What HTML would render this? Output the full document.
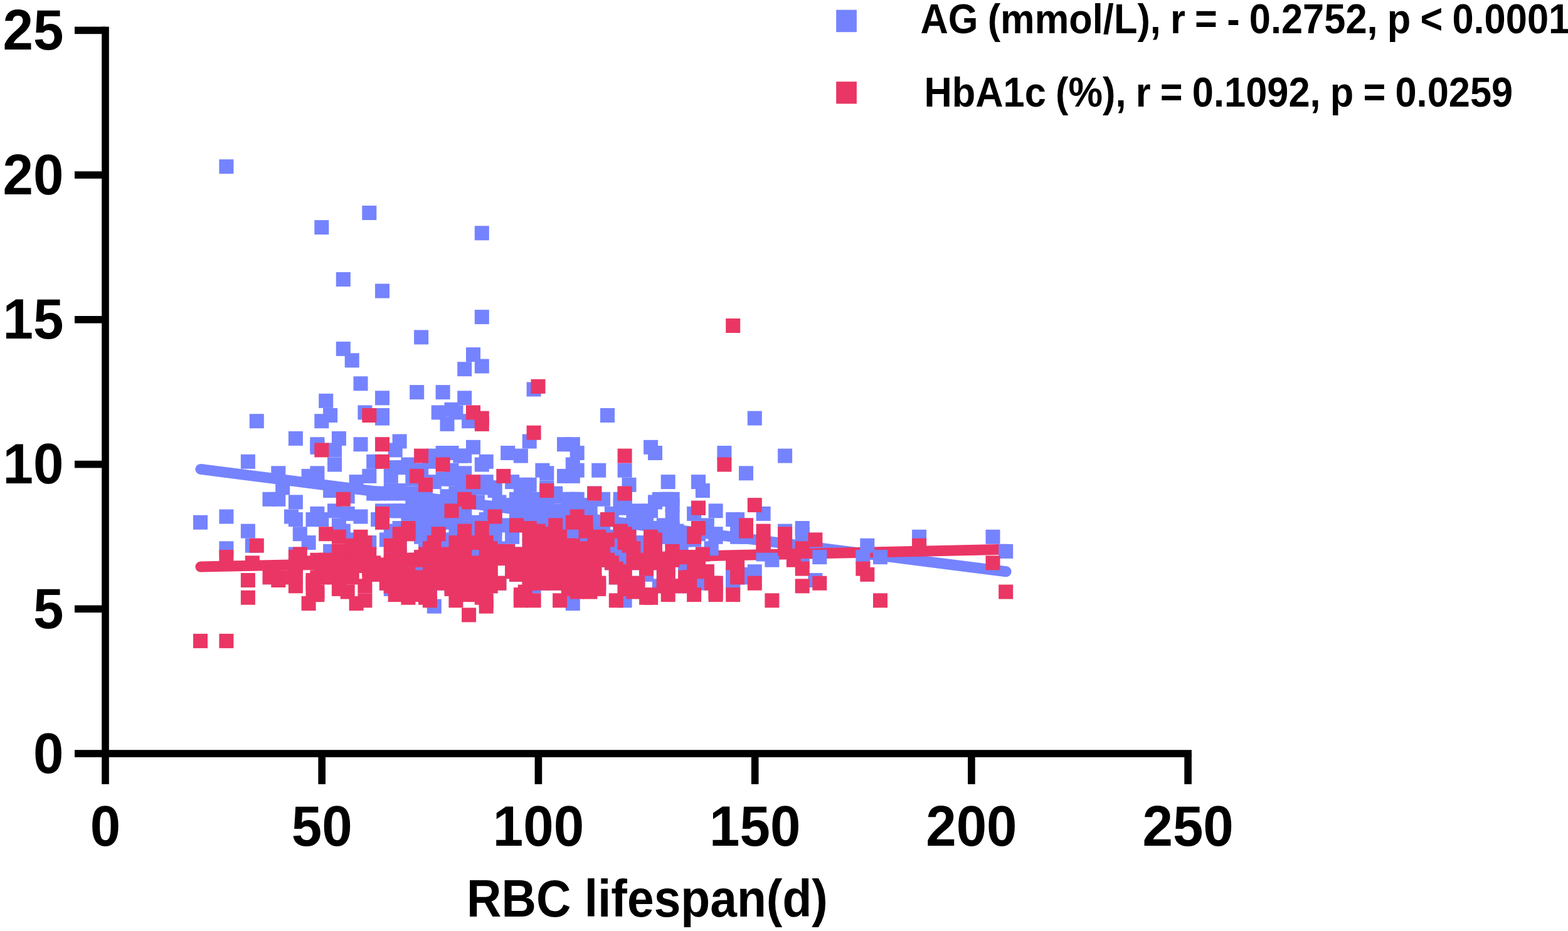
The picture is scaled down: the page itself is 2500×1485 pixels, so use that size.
<!DOCTYPE html>
<html lang="en">
<head>
<meta charset="utf-8">
<title>RBC lifespan correlation</title>
<style>
html,body{margin:0;padding:0;background:#fff;}
body{width:2500px;height:1485px;overflow:hidden;}
svg{display:block;}
svg text{font-family:"Liberation Sans",sans-serif;font-weight:700;fill:#000;white-space:pre;}
</style>
</head>
<body>

<svg width="2500" height="1485" viewBox="0 0 2500 1485">
<title>Scatter plot of AG and HbA1c against RBC lifespan with regression lines</title>
<rect width="2500" height="1485" fill="#ffffff"/>
<g fill="none" stroke-width="17.0" stroke-linecap="round">
<line x1="319.9" y1="748.4" x2="1604.1" y2="911.8" stroke="#7583ff"/>
<line x1="319.9" y1="904.1" x2="1604.1" y2="876.2" stroke="#ea3664"/>
</g>
<g fill="#7583ff">
<rect x="308.0" y="821.7" width="23.0" height="23.0"/>
<rect x="349.4" y="863.3" width="23.0" height="23.0"/>
<rect x="349.4" y="812.5" width="23.0" height="23.0"/>
<rect x="349.4" y="254.2" width="23.0" height="23.0"/>
<rect x="383.9" y="835.6" width="23.0" height="23.0"/>
<rect x="383.9" y="724.8" width="23.0" height="23.0"/>
<rect x="390.8" y="858.7" width="23.0" height="23.0"/>
<rect x="397.8" y="660.2" width="23.0" height="23.0"/>
<rect x="418.5" y="784.8" width="23.0" height="23.0"/>
<rect x="432.3" y="784.8" width="23.0" height="23.0"/>
<rect x="432.3" y="743.3" width="23.0" height="23.0"/>
<rect x="439.2" y="766.4" width="23.0" height="23.0"/>
<rect x="453.0" y="812.5" width="23.0" height="23.0"/>
<rect x="459.9" y="872.5" width="23.0" height="23.0"/>
<rect x="459.9" y="817.1" width="23.0" height="23.0"/>
<rect x="459.9" y="789.4" width="23.0" height="23.0"/>
<rect x="459.9" y="687.9" width="23.0" height="23.0"/>
<rect x="466.8" y="840.2" width="23.0" height="23.0"/>
<rect x="480.6" y="854.0" width="23.0" height="23.0"/>
<rect x="480.6" y="747.9" width="23.0" height="23.0"/>
<rect x="487.5" y="817.1" width="23.0" height="23.0"/>
<rect x="494.4" y="807.9" width="23.0" height="23.0"/>
<rect x="494.4" y="743.3" width="23.0" height="23.0"/>
<rect x="494.4" y="701.8" width="23.0" height="23.0"/>
<rect x="494.4" y="697.2" width="23.0" height="23.0"/>
<rect x="501.3" y="817.1" width="23.0" height="23.0"/>
<rect x="501.3" y="660.2" width="23.0" height="23.0"/>
<rect x="501.3" y="351.1" width="23.0" height="23.0"/>
<rect x="508.2" y="627.9" width="23.0" height="23.0"/>
<rect x="515.1" y="867.9" width="23.0" height="23.0"/>
<rect x="515.1" y="771.0" width="23.0" height="23.0"/>
<rect x="515.1" y="651.0" width="23.0" height="23.0"/>
<rect x="522.0" y="803.3" width="23.0" height="23.0"/>
<rect x="522.0" y="729.5" width="23.0" height="23.0"/>
<rect x="522.0" y="706.4" width="23.0" height="23.0"/>
<rect x="528.9" y="826.4" width="23.0" height="23.0"/>
<rect x="528.9" y="687.9" width="23.0" height="23.0"/>
<rect x="535.8" y="835.6" width="23.0" height="23.0"/>
<rect x="535.8" y="544.9" width="23.0" height="23.0"/>
<rect x="535.8" y="434.1" width="23.0" height="23.0"/>
<rect x="542.7" y="807.9" width="23.0" height="23.0"/>
<rect x="542.7" y="780.2" width="23.0" height="23.0"/>
<rect x="549.7" y="849.4" width="23.0" height="23.0"/>
<rect x="549.7" y="563.3" width="23.0" height="23.0"/>
<rect x="556.6" y="757.1" width="23.0" height="23.0"/>
<rect x="563.5" y="812.5" width="23.0" height="23.0"/>
<rect x="563.5" y="697.2" width="23.0" height="23.0"/>
<rect x="563.5" y="600.3" width="23.0" height="23.0"/>
<rect x="570.4" y="646.4" width="23.0" height="23.0"/>
<rect x="577.3" y="854.0" width="23.0" height="23.0"/>
<rect x="577.3" y="747.9" width="23.0" height="23.0"/>
<rect x="577.3" y="328.0" width="23.0" height="23.0"/>
<rect x="584.2" y="775.6" width="23.0" height="23.0"/>
<rect x="584.2" y="724.8" width="23.0" height="23.0"/>
<rect x="591.1" y="904.8" width="23.0" height="23.0"/>
<rect x="591.1" y="891.0" width="23.0" height="23.0"/>
<rect x="591.1" y="817.1" width="23.0" height="23.0"/>
<rect x="591.1" y="775.6" width="23.0" height="23.0"/>
<rect x="598.0" y="821.7" width="23.0" height="23.0"/>
<rect x="598.0" y="803.3" width="23.0" height="23.0"/>
<rect x="598.0" y="655.6" width="23.0" height="23.0"/>
<rect x="598.0" y="651.0" width="23.0" height="23.0"/>
<rect x="598.0" y="623.3" width="23.0" height="23.0"/>
<rect x="598.0" y="452.6" width="23.0" height="23.0"/>
<rect x="604.9" y="918.7" width="23.0" height="23.0"/>
<rect x="604.9" y="849.4" width="23.0" height="23.0"/>
<rect x="611.8" y="927.9" width="23.0" height="23.0"/>
<rect x="611.8" y="923.3" width="23.0" height="23.0"/>
<rect x="611.8" y="904.8" width="23.0" height="23.0"/>
<rect x="611.8" y="886.3" width="23.0" height="23.0"/>
<rect x="611.8" y="867.9" width="23.0" height="23.0"/>
<rect x="611.8" y="849.4" width="23.0" height="23.0"/>
<rect x="611.8" y="835.6" width="23.0" height="23.0"/>
<rect x="611.8" y="775.6" width="23.0" height="23.0"/>
<rect x="611.8" y="771.0" width="23.0" height="23.0"/>
<rect x="611.8" y="747.9" width="23.0" height="23.0"/>
<rect x="618.7" y="854.0" width="23.0" height="23.0"/>
<rect x="618.7" y="803.3" width="23.0" height="23.0"/>
<rect x="618.7" y="734.1" width="23.0" height="23.0"/>
<rect x="618.7" y="706.4" width="23.0" height="23.0"/>
<rect x="625.6" y="863.3" width="23.0" height="23.0"/>
<rect x="625.6" y="831.0" width="23.0" height="23.0"/>
<rect x="625.6" y="803.3" width="23.0" height="23.0"/>
<rect x="625.6" y="771.0" width="23.0" height="23.0"/>
<rect x="625.6" y="692.5" width="23.0" height="23.0"/>
<rect x="632.5" y="923.3" width="23.0" height="23.0"/>
<rect x="632.5" y="904.8" width="23.0" height="23.0"/>
<rect x="632.5" y="886.3" width="23.0" height="23.0"/>
<rect x="632.5" y="831.0" width="23.0" height="23.0"/>
<rect x="632.5" y="775.6" width="23.0" height="23.0"/>
<rect x="632.5" y="734.1" width="23.0" height="23.0"/>
<rect x="639.4" y="881.7" width="23.0" height="23.0"/>
<rect x="639.4" y="840.2" width="23.0" height="23.0"/>
<rect x="639.4" y="807.9" width="23.0" height="23.0"/>
<rect x="639.4" y="729.5" width="23.0" height="23.0"/>
<rect x="646.3" y="798.7" width="23.0" height="23.0"/>
<rect x="646.3" y="752.5" width="23.0" height="23.0"/>
<rect x="653.2" y="923.3" width="23.0" height="23.0"/>
<rect x="653.2" y="904.8" width="23.0" height="23.0"/>
<rect x="653.2" y="886.3" width="23.0" height="23.0"/>
<rect x="653.2" y="831.0" width="23.0" height="23.0"/>
<rect x="653.2" y="812.5" width="23.0" height="23.0"/>
<rect x="653.2" y="794.1" width="23.0" height="23.0"/>
<rect x="653.2" y="775.6" width="23.0" height="23.0"/>
<rect x="653.2" y="614.1" width="23.0" height="23.0"/>
<rect x="660.1" y="877.1" width="23.0" height="23.0"/>
<rect x="660.1" y="844.8" width="23.0" height="23.0"/>
<rect x="660.1" y="752.5" width="23.0" height="23.0"/>
<rect x="660.1" y="738.7" width="23.0" height="23.0"/>
<rect x="660.1" y="526.4" width="23.0" height="23.0"/>
<rect x="667.0" y="867.9" width="23.0" height="23.0"/>
<rect x="667.0" y="775.6" width="23.0" height="23.0"/>
<rect x="673.9" y="923.3" width="23.0" height="23.0"/>
<rect x="673.9" y="904.8" width="23.0" height="23.0"/>
<rect x="673.9" y="886.3" width="23.0" height="23.0"/>
<rect x="673.9" y="867.9" width="23.0" height="23.0"/>
<rect x="673.9" y="849.4" width="23.0" height="23.0"/>
<rect x="673.9" y="831.0" width="23.0" height="23.0"/>
<rect x="673.9" y="812.5" width="23.0" height="23.0"/>
<rect x="673.9" y="794.1" width="23.0" height="23.0"/>
<rect x="673.9" y="724.8" width="23.0" height="23.0"/>
<rect x="680.8" y="955.6" width="23.0" height="23.0"/>
<rect x="680.8" y="789.4" width="23.0" height="23.0"/>
<rect x="680.8" y="757.1" width="23.0" height="23.0"/>
<rect x="680.8" y="715.6" width="23.0" height="23.0"/>
<rect x="687.7" y="835.6" width="23.0" height="23.0"/>
<rect x="687.7" y="646.4" width="23.0" height="23.0"/>
<rect x="694.6" y="918.7" width="23.0" height="23.0"/>
<rect x="694.6" y="904.8" width="23.0" height="23.0"/>
<rect x="694.6" y="886.3" width="23.0" height="23.0"/>
<rect x="694.6" y="867.9" width="23.0" height="23.0"/>
<rect x="694.6" y="849.4" width="23.0" height="23.0"/>
<rect x="694.6" y="821.7" width="23.0" height="23.0"/>
<rect x="694.6" y="812.5" width="23.0" height="23.0"/>
<rect x="694.6" y="794.1" width="23.0" height="23.0"/>
<rect x="694.6" y="752.5" width="23.0" height="23.0"/>
<rect x="694.6" y="711.0" width="23.0" height="23.0"/>
<rect x="694.6" y="614.1" width="23.0" height="23.0"/>
<rect x="701.5" y="780.2" width="23.0" height="23.0"/>
<rect x="701.5" y="664.9" width="23.0" height="23.0"/>
<rect x="708.5" y="923.3" width="23.0" height="23.0"/>
<rect x="708.5" y="752.5" width="23.0" height="23.0"/>
<rect x="708.5" y="738.7" width="23.0" height="23.0"/>
<rect x="708.5" y="711.0" width="23.0" height="23.0"/>
<rect x="708.5" y="641.8" width="23.0" height="23.0"/>
<rect x="715.4" y="923.3" width="23.0" height="23.0"/>
<rect x="715.4" y="904.8" width="23.0" height="23.0"/>
<rect x="715.4" y="886.3" width="23.0" height="23.0"/>
<rect x="715.4" y="867.9" width="23.0" height="23.0"/>
<rect x="715.4" y="849.4" width="23.0" height="23.0"/>
<rect x="715.4" y="831.0" width="23.0" height="23.0"/>
<rect x="715.4" y="812.5" width="23.0" height="23.0"/>
<rect x="715.4" y="794.1" width="23.0" height="23.0"/>
<rect x="715.4" y="775.6" width="23.0" height="23.0"/>
<rect x="715.4" y="752.5" width="23.0" height="23.0"/>
<rect x="715.4" y="646.4" width="23.0" height="23.0"/>
<rect x="722.3" y="752.5" width="23.0" height="23.0"/>
<rect x="722.3" y="715.6" width="23.0" height="23.0"/>
<rect x="729.2" y="807.9" width="23.0" height="23.0"/>
<rect x="729.2" y="798.7" width="23.0" height="23.0"/>
<rect x="729.2" y="766.4" width="23.0" height="23.0"/>
<rect x="729.2" y="743.3" width="23.0" height="23.0"/>
<rect x="729.2" y="715.6" width="23.0" height="23.0"/>
<rect x="729.2" y="623.3" width="23.0" height="23.0"/>
<rect x="729.2" y="577.2" width="23.0" height="23.0"/>
<rect x="736.1" y="923.3" width="23.0" height="23.0"/>
<rect x="736.1" y="904.8" width="23.0" height="23.0"/>
<rect x="736.1" y="886.3" width="23.0" height="23.0"/>
<rect x="736.1" y="867.9" width="23.0" height="23.0"/>
<rect x="736.1" y="849.4" width="23.0" height="23.0"/>
<rect x="736.1" y="831.0" width="23.0" height="23.0"/>
<rect x="736.1" y="775.6" width="23.0" height="23.0"/>
<rect x="736.1" y="660.2" width="23.0" height="23.0"/>
<rect x="743.0" y="701.8" width="23.0" height="23.0"/>
<rect x="743.0" y="554.1" width="23.0" height="23.0"/>
<rect x="749.9" y="821.7" width="23.0" height="23.0"/>
<rect x="749.9" y="789.4" width="23.0" height="23.0"/>
<rect x="749.9" y="766.4" width="23.0" height="23.0"/>
<rect x="756.8" y="923.3" width="23.0" height="23.0"/>
<rect x="756.8" y="904.8" width="23.0" height="23.0"/>
<rect x="756.8" y="886.3" width="23.0" height="23.0"/>
<rect x="756.8" y="867.9" width="23.0" height="23.0"/>
<rect x="756.8" y="849.4" width="23.0" height="23.0"/>
<rect x="756.8" y="831.0" width="23.0" height="23.0"/>
<rect x="756.8" y="729.5" width="23.0" height="23.0"/>
<rect x="756.8" y="572.6" width="23.0" height="23.0"/>
<rect x="756.8" y="494.1" width="23.0" height="23.0"/>
<rect x="756.8" y="360.3" width="23.0" height="23.0"/>
<rect x="763.7" y="918.7" width="23.0" height="23.0"/>
<rect x="763.7" y="891.0" width="23.0" height="23.0"/>
<rect x="763.7" y="817.1" width="23.0" height="23.0"/>
<rect x="763.7" y="757.1" width="23.0" height="23.0"/>
<rect x="763.7" y="724.8" width="23.0" height="23.0"/>
<rect x="770.6" y="923.3" width="23.0" height="23.0"/>
<rect x="770.6" y="895.6" width="23.0" height="23.0"/>
<rect x="770.6" y="798.7" width="23.0" height="23.0"/>
<rect x="770.6" y="766.4" width="23.0" height="23.0"/>
<rect x="777.5" y="867.9" width="23.0" height="23.0"/>
<rect x="777.5" y="849.4" width="23.0" height="23.0"/>
<rect x="777.5" y="831.0" width="23.0" height="23.0"/>
<rect x="777.5" y="812.5" width="23.0" height="23.0"/>
<rect x="777.5" y="807.9" width="23.0" height="23.0"/>
<rect x="777.5" y="771.0" width="23.0" height="23.0"/>
<rect x="777.5" y="766.4" width="23.0" height="23.0"/>
<rect x="784.4" y="918.7" width="23.0" height="23.0"/>
<rect x="784.4" y="877.1" width="23.0" height="23.0"/>
<rect x="784.4" y="863.3" width="23.0" height="23.0"/>
<rect x="784.4" y="789.4" width="23.0" height="23.0"/>
<rect x="798.2" y="867.9" width="23.0" height="23.0"/>
<rect x="798.2" y="826.4" width="23.0" height="23.0"/>
<rect x="798.2" y="794.1" width="23.0" height="23.0"/>
<rect x="798.2" y="711.0" width="23.0" height="23.0"/>
<rect x="805.1" y="900.2" width="23.0" height="23.0"/>
<rect x="805.1" y="895.6" width="23.0" height="23.0"/>
<rect x="805.1" y="891.0" width="23.0" height="23.0"/>
<rect x="805.1" y="844.8" width="23.0" height="23.0"/>
<rect x="805.1" y="757.1" width="23.0" height="23.0"/>
<rect x="812.0" y="904.8" width="23.0" height="23.0"/>
<rect x="812.0" y="817.1" width="23.0" height="23.0"/>
<rect x="812.0" y="784.8" width="23.0" height="23.0"/>
<rect x="818.9" y="904.8" width="23.0" height="23.0"/>
<rect x="818.9" y="886.3" width="23.0" height="23.0"/>
<rect x="818.9" y="872.5" width="23.0" height="23.0"/>
<rect x="818.9" y="826.4" width="23.0" height="23.0"/>
<rect x="818.9" y="812.5" width="23.0" height="23.0"/>
<rect x="818.9" y="794.1" width="23.0" height="23.0"/>
<rect x="818.9" y="775.6" width="23.0" height="23.0"/>
<rect x="818.9" y="715.6" width="23.0" height="23.0"/>
<rect x="825.8" y="761.8" width="23.0" height="23.0"/>
<rect x="832.7" y="923.3" width="23.0" height="23.0"/>
<rect x="832.7" y="867.9" width="23.0" height="23.0"/>
<rect x="832.7" y="849.4" width="23.0" height="23.0"/>
<rect x="832.7" y="761.8" width="23.0" height="23.0"/>
<rect x="832.7" y="692.5" width="23.0" height="23.0"/>
<rect x="839.6" y="923.3" width="23.0" height="23.0"/>
<rect x="839.6" y="904.8" width="23.0" height="23.0"/>
<rect x="839.6" y="886.3" width="23.0" height="23.0"/>
<rect x="839.6" y="867.9" width="23.0" height="23.0"/>
<rect x="839.6" y="849.4" width="23.0" height="23.0"/>
<rect x="839.6" y="831.0" width="23.0" height="23.0"/>
<rect x="839.6" y="812.5" width="23.0" height="23.0"/>
<rect x="839.6" y="794.1" width="23.0" height="23.0"/>
<rect x="839.6" y="784.8" width="23.0" height="23.0"/>
<rect x="839.6" y="609.5" width="23.0" height="23.0"/>
<rect x="853.4" y="918.7" width="23.0" height="23.0"/>
<rect x="853.4" y="738.7" width="23.0" height="23.0"/>
<rect x="860.3" y="904.8" width="23.0" height="23.0"/>
<rect x="860.3" y="886.3" width="23.0" height="23.0"/>
<rect x="860.3" y="867.9" width="23.0" height="23.0"/>
<rect x="860.3" y="849.4" width="23.0" height="23.0"/>
<rect x="860.3" y="831.0" width="23.0" height="23.0"/>
<rect x="860.3" y="812.5" width="23.0" height="23.0"/>
<rect x="860.3" y="794.1" width="23.0" height="23.0"/>
<rect x="860.3" y="775.6" width="23.0" height="23.0"/>
<rect x="860.3" y="766.4" width="23.0" height="23.0"/>
<rect x="860.3" y="743.3" width="23.0" height="23.0"/>
<rect x="874.2" y="918.7" width="23.0" height="23.0"/>
<rect x="874.2" y="895.6" width="23.0" height="23.0"/>
<rect x="874.2" y="872.5" width="23.0" height="23.0"/>
<rect x="874.2" y="867.9" width="23.0" height="23.0"/>
<rect x="874.2" y="849.4" width="23.0" height="23.0"/>
<rect x="874.2" y="826.4" width="23.0" height="23.0"/>
<rect x="874.2" y="803.3" width="23.0" height="23.0"/>
<rect x="874.2" y="780.2" width="23.0" height="23.0"/>
<rect x="874.2" y="775.6" width="23.0" height="23.0"/>
<rect x="888.0" y="747.9" width="23.0" height="23.0"/>
<rect x="888.0" y="697.2" width="23.0" height="23.0"/>
<rect x="894.9" y="923.3" width="23.0" height="23.0"/>
<rect x="894.9" y="904.8" width="23.0" height="23.0"/>
<rect x="894.9" y="886.3" width="23.0" height="23.0"/>
<rect x="894.9" y="867.9" width="23.0" height="23.0"/>
<rect x="894.9" y="849.4" width="23.0" height="23.0"/>
<rect x="894.9" y="831.0" width="23.0" height="23.0"/>
<rect x="894.9" y="812.5" width="23.0" height="23.0"/>
<rect x="894.9" y="794.1" width="23.0" height="23.0"/>
<rect x="894.9" y="784.8" width="23.0" height="23.0"/>
<rect x="901.8" y="951.0" width="23.0" height="23.0"/>
<rect x="901.8" y="784.8" width="23.0" height="23.0"/>
<rect x="901.8" y="747.9" width="23.0" height="23.0"/>
<rect x="901.8" y="729.5" width="23.0" height="23.0"/>
<rect x="901.8" y="697.2" width="23.0" height="23.0"/>
<rect x="908.7" y="784.8" width="23.0" height="23.0"/>
<rect x="908.7" y="738.7" width="23.0" height="23.0"/>
<rect x="908.7" y="711.0" width="23.0" height="23.0"/>
<rect x="915.6" y="923.3" width="23.0" height="23.0"/>
<rect x="915.6" y="904.8" width="23.0" height="23.0"/>
<rect x="915.6" y="886.3" width="23.0" height="23.0"/>
<rect x="915.6" y="867.9" width="23.0" height="23.0"/>
<rect x="915.6" y="849.4" width="23.0" height="23.0"/>
<rect x="915.6" y="831.0" width="23.0" height="23.0"/>
<rect x="915.6" y="812.5" width="23.0" height="23.0"/>
<rect x="915.6" y="794.1" width="23.0" height="23.0"/>
<rect x="929.4" y="807.9" width="23.0" height="23.0"/>
<rect x="929.4" y="798.7" width="23.0" height="23.0"/>
<rect x="936.3" y="923.3" width="23.0" height="23.0"/>
<rect x="936.3" y="904.8" width="23.0" height="23.0"/>
<rect x="936.3" y="886.3" width="23.0" height="23.0"/>
<rect x="936.3" y="867.9" width="23.0" height="23.0"/>
<rect x="936.3" y="849.4" width="23.0" height="23.0"/>
<rect x="936.3" y="831.0" width="23.0" height="23.0"/>
<rect x="936.3" y="821.7" width="23.0" height="23.0"/>
<rect x="936.3" y="775.6" width="23.0" height="23.0"/>
<rect x="943.2" y="923.3" width="23.0" height="23.0"/>
<rect x="943.2" y="918.7" width="23.0" height="23.0"/>
<rect x="943.2" y="738.7" width="23.0" height="23.0"/>
<rect x="950.1" y="826.4" width="23.0" height="23.0"/>
<rect x="950.1" y="784.8" width="23.0" height="23.0"/>
<rect x="957.0" y="881.7" width="23.0" height="23.0"/>
<rect x="957.0" y="867.9" width="23.0" height="23.0"/>
<rect x="957.0" y="849.4" width="23.0" height="23.0"/>
<rect x="957.0" y="844.8" width="23.0" height="23.0"/>
<rect x="957.0" y="817.1" width="23.0" height="23.0"/>
<rect x="957.0" y="651.0" width="23.0" height="23.0"/>
<rect x="963.9" y="886.3" width="23.0" height="23.0"/>
<rect x="963.9" y="807.9" width="23.0" height="23.0"/>
<rect x="970.8" y="909.4" width="23.0" height="23.0"/>
<rect x="970.8" y="858.7" width="23.0" height="23.0"/>
<rect x="977.7" y="904.8" width="23.0" height="23.0"/>
<rect x="977.7" y="886.3" width="23.0" height="23.0"/>
<rect x="977.7" y="872.5" width="23.0" height="23.0"/>
<rect x="977.7" y="867.9" width="23.0" height="23.0"/>
<rect x="977.7" y="849.4" width="23.0" height="23.0"/>
<rect x="977.7" y="831.0" width="23.0" height="23.0"/>
<rect x="977.7" y="826.4" width="23.0" height="23.0"/>
<rect x="977.7" y="794.1" width="23.0" height="23.0"/>
<rect x="977.7" y="784.8" width="23.0" height="23.0"/>
<rect x="984.6" y="946.3" width="23.0" height="23.0"/>
<rect x="984.6" y="923.3" width="23.0" height="23.0"/>
<rect x="984.6" y="909.4" width="23.0" height="23.0"/>
<rect x="984.6" y="881.7" width="23.0" height="23.0"/>
<rect x="984.6" y="858.7" width="23.0" height="23.0"/>
<rect x="984.6" y="798.7" width="23.0" height="23.0"/>
<rect x="984.6" y="784.8" width="23.0" height="23.0"/>
<rect x="984.6" y="775.6" width="23.0" height="23.0"/>
<rect x="984.6" y="738.7" width="23.0" height="23.0"/>
<rect x="991.5" y="835.6" width="23.0" height="23.0"/>
<rect x="991.5" y="761.8" width="23.0" height="23.0"/>
<rect x="998.4" y="923.3" width="23.0" height="23.0"/>
<rect x="998.4" y="886.3" width="23.0" height="23.0"/>
<rect x="998.4" y="867.9" width="23.0" height="23.0"/>
<rect x="998.4" y="812.5" width="23.0" height="23.0"/>
<rect x="1005.3" y="923.3" width="23.0" height="23.0"/>
<rect x="1005.3" y="918.7" width="23.0" height="23.0"/>
<rect x="1005.3" y="854.0" width="23.0" height="23.0"/>
<rect x="1005.3" y="821.7" width="23.0" height="23.0"/>
<rect x="1005.3" y="803.3" width="23.0" height="23.0"/>
<rect x="1012.2" y="858.7" width="23.0" height="23.0"/>
<rect x="1019.1" y="904.8" width="23.0" height="23.0"/>
<rect x="1019.1" y="886.3" width="23.0" height="23.0"/>
<rect x="1019.1" y="867.9" width="23.0" height="23.0"/>
<rect x="1019.1" y="812.5" width="23.0" height="23.0"/>
<rect x="1026.1" y="835.6" width="23.0" height="23.0"/>
<rect x="1026.1" y="803.3" width="23.0" height="23.0"/>
<rect x="1026.1" y="701.8" width="23.0" height="23.0"/>
<rect x="1033.0" y="877.1" width="23.0" height="23.0"/>
<rect x="1033.0" y="854.0" width="23.0" height="23.0"/>
<rect x="1033.0" y="789.4" width="23.0" height="23.0"/>
<rect x="1033.0" y="711.0" width="23.0" height="23.0"/>
<rect x="1039.9" y="923.3" width="23.0" height="23.0"/>
<rect x="1039.9" y="886.3" width="23.0" height="23.0"/>
<rect x="1039.9" y="881.7" width="23.0" height="23.0"/>
<rect x="1039.9" y="844.8" width="23.0" height="23.0"/>
<rect x="1039.9" y="831.0" width="23.0" height="23.0"/>
<rect x="1039.9" y="784.8" width="23.0" height="23.0"/>
<rect x="1046.8" y="909.4" width="23.0" height="23.0"/>
<rect x="1046.8" y="826.4" width="23.0" height="23.0"/>
<rect x="1053.7" y="900.2" width="23.0" height="23.0"/>
<rect x="1053.7" y="784.8" width="23.0" height="23.0"/>
<rect x="1053.7" y="757.1" width="23.0" height="23.0"/>
<rect x="1060.6" y="923.3" width="23.0" height="23.0"/>
<rect x="1060.6" y="881.7" width="23.0" height="23.0"/>
<rect x="1060.6" y="867.9" width="23.0" height="23.0"/>
<rect x="1060.6" y="849.4" width="23.0" height="23.0"/>
<rect x="1060.6" y="831.0" width="23.0" height="23.0"/>
<rect x="1060.6" y="812.5" width="23.0" height="23.0"/>
<rect x="1060.6" y="794.1" width="23.0" height="23.0"/>
<rect x="1060.6" y="784.8" width="23.0" height="23.0"/>
<rect x="1067.5" y="835.6" width="23.0" height="23.0"/>
<rect x="1074.4" y="872.5" width="23.0" height="23.0"/>
<rect x="1074.4" y="867.9" width="23.0" height="23.0"/>
<rect x="1081.3" y="923.3" width="23.0" height="23.0"/>
<rect x="1081.3" y="904.8" width="23.0" height="23.0"/>
<rect x="1081.3" y="886.3" width="23.0" height="23.0"/>
<rect x="1081.3" y="849.4" width="23.0" height="23.0"/>
<rect x="1081.3" y="840.2" width="23.0" height="23.0"/>
<rect x="1088.2" y="877.1" width="23.0" height="23.0"/>
<rect x="1095.1" y="923.3" width="23.0" height="23.0"/>
<rect x="1095.1" y="849.4" width="23.0" height="23.0"/>
<rect x="1095.1" y="807.9" width="23.0" height="23.0"/>
<rect x="1102.0" y="904.8" width="23.0" height="23.0"/>
<rect x="1102.0" y="886.3" width="23.0" height="23.0"/>
<rect x="1102.0" y="840.2" width="23.0" height="23.0"/>
<rect x="1102.0" y="831.0" width="23.0" height="23.0"/>
<rect x="1102.0" y="798.7" width="23.0" height="23.0"/>
<rect x="1102.0" y="757.1" width="23.0" height="23.0"/>
<rect x="1108.9" y="918.7" width="23.0" height="23.0"/>
<rect x="1108.9" y="872.5" width="23.0" height="23.0"/>
<rect x="1108.9" y="835.6" width="23.0" height="23.0"/>
<rect x="1108.9" y="771.0" width="23.0" height="23.0"/>
<rect x="1115.8" y="900.2" width="23.0" height="23.0"/>
<rect x="1115.8" y="826.4" width="23.0" height="23.0"/>
<rect x="1122.7" y="863.3" width="23.0" height="23.0"/>
<rect x="1129.6" y="923.3" width="23.0" height="23.0"/>
<rect x="1129.6" y="918.7" width="23.0" height="23.0"/>
<rect x="1129.6" y="844.8" width="23.0" height="23.0"/>
<rect x="1129.6" y="840.2" width="23.0" height="23.0"/>
<rect x="1129.6" y="803.3" width="23.0" height="23.0"/>
<rect x="1143.4" y="711.0" width="23.0" height="23.0"/>
<rect x="1157.2" y="923.3" width="23.0" height="23.0"/>
<rect x="1157.2" y="914.0" width="23.0" height="23.0"/>
<rect x="1157.2" y="904.8" width="23.0" height="23.0"/>
<rect x="1157.2" y="895.6" width="23.0" height="23.0"/>
<rect x="1157.2" y="817.1" width="23.0" height="23.0"/>
<rect x="1164.1" y="904.8" width="23.0" height="23.0"/>
<rect x="1164.1" y="895.6" width="23.0" height="23.0"/>
<rect x="1164.1" y="844.8" width="23.0" height="23.0"/>
<rect x="1164.1" y="831.0" width="23.0" height="23.0"/>
<rect x="1164.1" y="817.1" width="23.0" height="23.0"/>
<rect x="1178.0" y="909.4" width="23.0" height="23.0"/>
<rect x="1178.0" y="844.8" width="23.0" height="23.0"/>
<rect x="1178.0" y="826.4" width="23.0" height="23.0"/>
<rect x="1178.0" y="743.3" width="23.0" height="23.0"/>
<rect x="1184.9" y="904.8" width="23.0" height="23.0"/>
<rect x="1191.8" y="900.2" width="23.0" height="23.0"/>
<rect x="1191.8" y="655.6" width="23.0" height="23.0"/>
<rect x="1205.6" y="872.5" width="23.0" height="23.0"/>
<rect x="1205.6" y="807.9" width="23.0" height="23.0"/>
<rect x="1219.4" y="881.7" width="23.0" height="23.0"/>
<rect x="1240.1" y="835.6" width="23.0" height="23.0"/>
<rect x="1240.1" y="715.6" width="23.0" height="23.0"/>
<rect x="1267.7" y="881.7" width="23.0" height="23.0"/>
<rect x="1267.7" y="840.2" width="23.0" height="23.0"/>
<rect x="1267.7" y="831.0" width="23.0" height="23.0"/>
<rect x="1288.4" y="914.0" width="23.0" height="23.0"/>
<rect x="1295.3" y="877.1" width="23.0" height="23.0"/>
<rect x="1364.4" y="877.1" width="23.0" height="23.0"/>
<rect x="1371.3" y="858.7" width="23.0" height="23.0"/>
<rect x="1392.0" y="877.1" width="23.0" height="23.0"/>
<rect x="1454.1" y="844.8" width="23.0" height="23.0"/>
<rect x="1571.5" y="844.8" width="23.0" height="23.0"/>
<rect x="1592.2" y="867.9" width="23.0" height="23.0"/>
</g>
<g fill="#ea3664">
<rect x="308.0" y="1010.9" width="23.0" height="23.0"/>
<rect x="349.4" y="1010.9" width="23.0" height="23.0"/>
<rect x="349.4" y="877.1" width="23.0" height="23.0"/>
<rect x="383.9" y="941.7" width="23.0" height="23.0"/>
<rect x="383.9" y="914.0" width="23.0" height="23.0"/>
<rect x="390.8" y="886.3" width="23.0" height="23.0"/>
<rect x="397.8" y="858.7" width="23.0" height="23.0"/>
<rect x="418.5" y="909.4" width="23.0" height="23.0"/>
<rect x="432.3" y="914.0" width="23.0" height="23.0"/>
<rect x="439.2" y="909.4" width="23.0" height="23.0"/>
<rect x="459.9" y="923.3" width="23.0" height="23.0"/>
<rect x="459.9" y="909.4" width="23.0" height="23.0"/>
<rect x="459.9" y="891.0" width="23.0" height="23.0"/>
<rect x="459.9" y="877.1" width="23.0" height="23.0"/>
<rect x="466.8" y="872.5" width="23.0" height="23.0"/>
<rect x="480.6" y="951.0" width="23.0" height="23.0"/>
<rect x="480.6" y="886.3" width="23.0" height="23.0"/>
<rect x="487.5" y="937.1" width="23.0" height="23.0"/>
<rect x="487.5" y="918.7" width="23.0" height="23.0"/>
<rect x="487.5" y="914.0" width="23.0" height="23.0"/>
<rect x="494.4" y="937.1" width="23.0" height="23.0"/>
<rect x="494.4" y="932.5" width="23.0" height="23.0"/>
<rect x="494.4" y="909.4" width="23.0" height="23.0"/>
<rect x="494.4" y="881.7" width="23.0" height="23.0"/>
<rect x="501.3" y="909.4" width="23.0" height="23.0"/>
<rect x="501.3" y="891.0" width="23.0" height="23.0"/>
<rect x="501.3" y="706.4" width="23.0" height="23.0"/>
<rect x="508.2" y="881.7" width="23.0" height="23.0"/>
<rect x="508.2" y="840.2" width="23.0" height="23.0"/>
<rect x="515.1" y="886.3" width="23.0" height="23.0"/>
<rect x="522.0" y="909.4" width="23.0" height="23.0"/>
<rect x="522.0" y="891.0" width="23.0" height="23.0"/>
<rect x="528.9" y="927.9" width="23.0" height="23.0"/>
<rect x="528.9" y="867.9" width="23.0" height="23.0"/>
<rect x="528.9" y="844.8" width="23.0" height="23.0"/>
<rect x="535.8" y="886.3" width="23.0" height="23.0"/>
<rect x="535.8" y="784.8" width="23.0" height="23.0"/>
<rect x="542.7" y="932.5" width="23.0" height="23.0"/>
<rect x="542.7" y="909.4" width="23.0" height="23.0"/>
<rect x="542.7" y="891.0" width="23.0" height="23.0"/>
<rect x="549.7" y="909.4" width="23.0" height="23.0"/>
<rect x="549.7" y="867.9" width="23.0" height="23.0"/>
<rect x="549.7" y="858.7" width="23.0" height="23.0"/>
<rect x="556.6" y="951.0" width="23.0" height="23.0"/>
<rect x="556.6" y="886.3" width="23.0" height="23.0"/>
<rect x="563.5" y="891.0" width="23.0" height="23.0"/>
<rect x="563.5" y="844.8" width="23.0" height="23.0"/>
<rect x="570.4" y="946.3" width="23.0" height="23.0"/>
<rect x="570.4" y="923.3" width="23.0" height="23.0"/>
<rect x="570.4" y="867.9" width="23.0" height="23.0"/>
<rect x="570.4" y="854.0" width="23.0" height="23.0"/>
<rect x="577.3" y="904.8" width="23.0" height="23.0"/>
<rect x="577.3" y="895.6" width="23.0" height="23.0"/>
<rect x="577.3" y="872.5" width="23.0" height="23.0"/>
<rect x="577.3" y="651.0" width="23.0" height="23.0"/>
<rect x="584.2" y="904.8" width="23.0" height="23.0"/>
<rect x="584.2" y="895.6" width="23.0" height="23.0"/>
<rect x="584.2" y="886.3" width="23.0" height="23.0"/>
<rect x="591.1" y="891.0" width="23.0" height="23.0"/>
<rect x="598.0" y="821.7" width="23.0" height="23.0"/>
<rect x="598.0" y="807.9" width="23.0" height="23.0"/>
<rect x="598.0" y="724.8" width="23.0" height="23.0"/>
<rect x="598.0" y="697.2" width="23.0" height="23.0"/>
<rect x="604.9" y="918.7" width="23.0" height="23.0"/>
<rect x="604.9" y="914.0" width="23.0" height="23.0"/>
<rect x="604.9" y="895.6" width="23.0" height="23.0"/>
<rect x="611.8" y="923.3" width="23.0" height="23.0"/>
<rect x="611.8" y="881.7" width="23.0" height="23.0"/>
<rect x="611.8" y="858.7" width="23.0" height="23.0"/>
<rect x="618.7" y="937.1" width="23.0" height="23.0"/>
<rect x="625.6" y="932.5" width="23.0" height="23.0"/>
<rect x="625.6" y="914.0" width="23.0" height="23.0"/>
<rect x="625.6" y="895.6" width="23.0" height="23.0"/>
<rect x="625.6" y="877.1" width="23.0" height="23.0"/>
<rect x="625.6" y="858.7" width="23.0" height="23.0"/>
<rect x="625.6" y="840.2" width="23.0" height="23.0"/>
<rect x="639.4" y="941.7" width="23.0" height="23.0"/>
<rect x="639.4" y="904.8" width="23.0" height="23.0"/>
<rect x="639.4" y="840.2" width="23.0" height="23.0"/>
<rect x="639.4" y="835.6" width="23.0" height="23.0"/>
<rect x="639.4" y="831.0" width="23.0" height="23.0"/>
<rect x="646.3" y="937.1" width="23.0" height="23.0"/>
<rect x="646.3" y="932.5" width="23.0" height="23.0"/>
<rect x="646.3" y="914.0" width="23.0" height="23.0"/>
<rect x="646.3" y="881.7" width="23.0" height="23.0"/>
<rect x="653.2" y="909.4" width="23.0" height="23.0"/>
<rect x="653.2" y="881.7" width="23.0" height="23.0"/>
<rect x="653.2" y="747.9" width="23.0" height="23.0"/>
<rect x="660.1" y="877.1" width="23.0" height="23.0"/>
<rect x="660.1" y="715.6" width="23.0" height="23.0"/>
<rect x="667.0" y="941.7" width="23.0" height="23.0"/>
<rect x="667.0" y="932.5" width="23.0" height="23.0"/>
<rect x="667.0" y="914.0" width="23.0" height="23.0"/>
<rect x="667.0" y="877.1" width="23.0" height="23.0"/>
<rect x="667.0" y="872.5" width="23.0" height="23.0"/>
<rect x="667.0" y="761.8" width="23.0" height="23.0"/>
<rect x="673.9" y="946.3" width="23.0" height="23.0"/>
<rect x="673.9" y="941.7" width="23.0" height="23.0"/>
<rect x="673.9" y="900.2" width="23.0" height="23.0"/>
<rect x="673.9" y="863.3" width="23.0" height="23.0"/>
<rect x="680.8" y="854.0" width="23.0" height="23.0"/>
<rect x="687.7" y="918.7" width="23.0" height="23.0"/>
<rect x="687.7" y="914.0" width="23.0" height="23.0"/>
<rect x="687.7" y="895.6" width="23.0" height="23.0"/>
<rect x="687.7" y="877.1" width="23.0" height="23.0"/>
<rect x="687.7" y="840.2" width="23.0" height="23.0"/>
<rect x="694.6" y="872.5" width="23.0" height="23.0"/>
<rect x="694.6" y="729.5" width="23.0" height="23.0"/>
<rect x="708.5" y="927.9" width="23.0" height="23.0"/>
<rect x="708.5" y="914.0" width="23.0" height="23.0"/>
<rect x="708.5" y="895.6" width="23.0" height="23.0"/>
<rect x="708.5" y="877.1" width="23.0" height="23.0"/>
<rect x="708.5" y="803.3" width="23.0" height="23.0"/>
<rect x="715.4" y="946.3" width="23.0" height="23.0"/>
<rect x="715.4" y="854.0" width="23.0" height="23.0"/>
<rect x="729.2" y="932.5" width="23.0" height="23.0"/>
<rect x="729.2" y="914.0" width="23.0" height="23.0"/>
<rect x="729.2" y="895.6" width="23.0" height="23.0"/>
<rect x="729.2" y="877.1" width="23.0" height="23.0"/>
<rect x="729.2" y="858.7" width="23.0" height="23.0"/>
<rect x="729.2" y="835.6" width="23.0" height="23.0"/>
<rect x="729.2" y="784.8" width="23.0" height="23.0"/>
<rect x="736.1" y="969.4" width="23.0" height="23.0"/>
<rect x="736.1" y="937.1" width="23.0" height="23.0"/>
<rect x="736.1" y="789.4" width="23.0" height="23.0"/>
<rect x="743.0" y="937.1" width="23.0" height="23.0"/>
<rect x="743.0" y="854.0" width="23.0" height="23.0"/>
<rect x="743.0" y="757.1" width="23.0" height="23.0"/>
<rect x="743.0" y="646.4" width="23.0" height="23.0"/>
<rect x="749.9" y="932.5" width="23.0" height="23.0"/>
<rect x="749.9" y="914.0" width="23.0" height="23.0"/>
<rect x="749.9" y="895.6" width="23.0" height="23.0"/>
<rect x="749.9" y="886.3" width="23.0" height="23.0"/>
<rect x="756.8" y="941.7" width="23.0" height="23.0"/>
<rect x="756.8" y="831.0" width="23.0" height="23.0"/>
<rect x="756.8" y="664.9" width="23.0" height="23.0"/>
<rect x="756.8" y="655.6" width="23.0" height="23.0"/>
<rect x="763.7" y="955.6" width="23.0" height="23.0"/>
<rect x="763.7" y="946.3" width="23.0" height="23.0"/>
<rect x="763.7" y="877.1" width="23.0" height="23.0"/>
<rect x="763.7" y="854.0" width="23.0" height="23.0"/>
<rect x="770.6" y="923.3" width="23.0" height="23.0"/>
<rect x="770.6" y="914.0" width="23.0" height="23.0"/>
<rect x="770.6" y="895.6" width="23.0" height="23.0"/>
<rect x="770.6" y="877.1" width="23.0" height="23.0"/>
<rect x="770.6" y="863.3" width="23.0" height="23.0"/>
<rect x="777.5" y="867.9" width="23.0" height="23.0"/>
<rect x="777.5" y="812.5" width="23.0" height="23.0"/>
<rect x="784.4" y="918.7" width="23.0" height="23.0"/>
<rect x="791.3" y="877.1" width="23.0" height="23.0"/>
<rect x="791.3" y="747.9" width="23.0" height="23.0"/>
<rect x="798.2" y="867.9" width="23.0" height="23.0"/>
<rect x="805.1" y="900.2" width="23.0" height="23.0"/>
<rect x="812.0" y="904.8" width="23.0" height="23.0"/>
<rect x="812.0" y="895.6" width="23.0" height="23.0"/>
<rect x="812.0" y="877.1" width="23.0" height="23.0"/>
<rect x="812.0" y="872.5" width="23.0" height="23.0"/>
<rect x="812.0" y="826.4" width="23.0" height="23.0"/>
<rect x="818.9" y="946.3" width="23.0" height="23.0"/>
<rect x="818.9" y="941.7" width="23.0" height="23.0"/>
<rect x="818.9" y="937.1" width="23.0" height="23.0"/>
<rect x="825.8" y="932.5" width="23.0" height="23.0"/>
<rect x="832.7" y="918.7" width="23.0" height="23.0"/>
<rect x="832.7" y="914.0" width="23.0" height="23.0"/>
<rect x="832.7" y="895.6" width="23.0" height="23.0"/>
<rect x="832.7" y="877.1" width="23.0" height="23.0"/>
<rect x="832.7" y="858.7" width="23.0" height="23.0"/>
<rect x="832.7" y="840.2" width="23.0" height="23.0"/>
<rect x="832.7" y="831.0" width="23.0" height="23.0"/>
<rect x="839.6" y="946.3" width="23.0" height="23.0"/>
<rect x="839.6" y="678.7" width="23.0" height="23.0"/>
<rect x="846.5" y="835.6" width="23.0" height="23.0"/>
<rect x="846.5" y="604.9" width="23.0" height="23.0"/>
<rect x="853.4" y="918.7" width="23.0" height="23.0"/>
<rect x="853.4" y="914.0" width="23.0" height="23.0"/>
<rect x="853.4" y="895.6" width="23.0" height="23.0"/>
<rect x="853.4" y="877.1" width="23.0" height="23.0"/>
<rect x="853.4" y="858.7" width="23.0" height="23.0"/>
<rect x="853.4" y="840.2" width="23.0" height="23.0"/>
<rect x="860.3" y="849.4" width="23.0" height="23.0"/>
<rect x="860.3" y="771.0" width="23.0" height="23.0"/>
<rect x="874.2" y="918.7" width="23.0" height="23.0"/>
<rect x="874.2" y="914.0" width="23.0" height="23.0"/>
<rect x="874.2" y="895.6" width="23.0" height="23.0"/>
<rect x="874.2" y="877.1" width="23.0" height="23.0"/>
<rect x="874.2" y="858.7" width="23.0" height="23.0"/>
<rect x="874.2" y="826.4" width="23.0" height="23.0"/>
<rect x="881.1" y="946.3" width="23.0" height="23.0"/>
<rect x="881.1" y="844.8" width="23.0" height="23.0"/>
<rect x="894.9" y="927.9" width="23.0" height="23.0"/>
<rect x="894.9" y="914.0" width="23.0" height="23.0"/>
<rect x="894.9" y="895.6" width="23.0" height="23.0"/>
<rect x="894.9" y="877.1" width="23.0" height="23.0"/>
<rect x="894.9" y="858.7" width="23.0" height="23.0"/>
<rect x="901.8" y="858.7" width="23.0" height="23.0"/>
<rect x="901.8" y="821.7" width="23.0" height="23.0"/>
<rect x="908.7" y="932.5" width="23.0" height="23.0"/>
<rect x="908.7" y="812.5" width="23.0" height="23.0"/>
<rect x="915.6" y="914.0" width="23.0" height="23.0"/>
<rect x="915.6" y="895.6" width="23.0" height="23.0"/>
<rect x="915.6" y="877.1" width="23.0" height="23.0"/>
<rect x="915.6" y="863.3" width="23.0" height="23.0"/>
<rect x="922.5" y="835.6" width="23.0" height="23.0"/>
<rect x="922.5" y="821.7" width="23.0" height="23.0"/>
<rect x="929.4" y="932.5" width="23.0" height="23.0"/>
<rect x="936.3" y="914.0" width="23.0" height="23.0"/>
<rect x="936.3" y="895.6" width="23.0" height="23.0"/>
<rect x="936.3" y="877.1" width="23.0" height="23.0"/>
<rect x="936.3" y="858.7" width="23.0" height="23.0"/>
<rect x="936.3" y="775.6" width="23.0" height="23.0"/>
<rect x="943.2" y="927.9" width="23.0" height="23.0"/>
<rect x="943.2" y="918.7" width="23.0" height="23.0"/>
<rect x="943.2" y="844.8" width="23.0" height="23.0"/>
<rect x="950.1" y="863.3" width="23.0" height="23.0"/>
<rect x="957.0" y="881.7" width="23.0" height="23.0"/>
<rect x="957.0" y="849.4" width="23.0" height="23.0"/>
<rect x="957.0" y="817.1" width="23.0" height="23.0"/>
<rect x="963.9" y="886.3" width="23.0" height="23.0"/>
<rect x="970.8" y="946.3" width="23.0" height="23.0"/>
<rect x="970.8" y="909.4" width="23.0" height="23.0"/>
<rect x="970.8" y="895.6" width="23.0" height="23.0"/>
<rect x="977.7" y="900.2" width="23.0" height="23.0"/>
<rect x="977.7" y="835.6" width="23.0" height="23.0"/>
<rect x="984.6" y="927.9" width="23.0" height="23.0"/>
<rect x="984.6" y="904.8" width="23.0" height="23.0"/>
<rect x="984.6" y="854.0" width="23.0" height="23.0"/>
<rect x="984.6" y="840.2" width="23.0" height="23.0"/>
<rect x="984.6" y="775.6" width="23.0" height="23.0"/>
<rect x="984.6" y="715.6" width="23.0" height="23.0"/>
<rect x="991.5" y="858.7" width="23.0" height="23.0"/>
<rect x="991.5" y="844.8" width="23.0" height="23.0"/>
<rect x="998.4" y="932.5" width="23.0" height="23.0"/>
<rect x="998.4" y="886.3" width="23.0" height="23.0"/>
<rect x="998.4" y="863.3" width="23.0" height="23.0"/>
<rect x="1005.3" y="918.7" width="23.0" height="23.0"/>
<rect x="1005.3" y="881.7" width="23.0" height="23.0"/>
<rect x="1019.1" y="941.7" width="23.0" height="23.0"/>
<rect x="1019.1" y="895.6" width="23.0" height="23.0"/>
<rect x="1026.1" y="941.7" width="23.0" height="23.0"/>
<rect x="1026.1" y="937.1" width="23.0" height="23.0"/>
<rect x="1026.1" y="886.3" width="23.0" height="23.0"/>
<rect x="1026.1" y="872.5" width="23.0" height="23.0"/>
<rect x="1026.1" y="867.9" width="23.0" height="23.0"/>
<rect x="1026.1" y="844.8" width="23.0" height="23.0"/>
<rect x="1033.0" y="867.9" width="23.0" height="23.0"/>
<rect x="1033.0" y="849.4" width="23.0" height="23.0"/>
<rect x="1039.9" y="881.7" width="23.0" height="23.0"/>
<rect x="1046.8" y="923.3" width="23.0" height="23.0"/>
<rect x="1046.8" y="914.0" width="23.0" height="23.0"/>
<rect x="1046.8" y="891.0" width="23.0" height="23.0"/>
<rect x="1053.7" y="937.1" width="23.0" height="23.0"/>
<rect x="1053.7" y="900.2" width="23.0" height="23.0"/>
<rect x="1060.6" y="881.7" width="23.0" height="23.0"/>
<rect x="1060.6" y="877.1" width="23.0" height="23.0"/>
<rect x="1060.6" y="867.9" width="23.0" height="23.0"/>
<rect x="1067.5" y="923.3" width="23.0" height="23.0"/>
<rect x="1074.4" y="877.1" width="23.0" height="23.0"/>
<rect x="1081.3" y="914.0" width="23.0" height="23.0"/>
<rect x="1081.3" y="909.4" width="23.0" height="23.0"/>
<rect x="1081.3" y="877.1" width="23.0" height="23.0"/>
<rect x="1088.2" y="923.3" width="23.0" height="23.0"/>
<rect x="1088.2" y="909.4" width="23.0" height="23.0"/>
<rect x="1095.1" y="937.1" width="23.0" height="23.0"/>
<rect x="1095.1" y="900.2" width="23.0" height="23.0"/>
<rect x="1095.1" y="844.8" width="23.0" height="23.0"/>
<rect x="1095.1" y="840.2" width="23.0" height="23.0"/>
<rect x="1102.0" y="895.6" width="23.0" height="23.0"/>
<rect x="1102.0" y="877.1" width="23.0" height="23.0"/>
<rect x="1102.0" y="831.0" width="23.0" height="23.0"/>
<rect x="1102.0" y="798.7" width="23.0" height="23.0"/>
<rect x="1108.9" y="872.5" width="23.0" height="23.0"/>
<rect x="1115.8" y="900.2" width="23.0" height="23.0"/>
<rect x="1122.7" y="918.7" width="23.0" height="23.0"/>
<rect x="1129.6" y="937.1" width="23.0" height="23.0"/>
<rect x="1129.6" y="932.5" width="23.0" height="23.0"/>
<rect x="1129.6" y="918.7" width="23.0" height="23.0"/>
<rect x="1143.4" y="729.5" width="23.0" height="23.0"/>
<rect x="1157.2" y="937.1" width="23.0" height="23.0"/>
<rect x="1157.2" y="886.3" width="23.0" height="23.0"/>
<rect x="1157.2" y="508.0" width="23.0" height="23.0"/>
<rect x="1164.1" y="909.4" width="23.0" height="23.0"/>
<rect x="1164.1" y="891.0" width="23.0" height="23.0"/>
<rect x="1178.0" y="835.6" width="23.0" height="23.0"/>
<rect x="1178.0" y="826.4" width="23.0" height="23.0"/>
<rect x="1191.8" y="918.7" width="23.0" height="23.0"/>
<rect x="1191.8" y="794.1" width="23.0" height="23.0"/>
<rect x="1205.6" y="858.7" width="23.0" height="23.0"/>
<rect x="1205.6" y="854.0" width="23.0" height="23.0"/>
<rect x="1205.6" y="835.6" width="23.0" height="23.0"/>
<rect x="1219.4" y="946.3" width="23.0" height="23.0"/>
<rect x="1240.1" y="863.3" width="23.0" height="23.0"/>
<rect x="1240.1" y="858.7" width="23.0" height="23.0"/>
<rect x="1240.1" y="840.2" width="23.0" height="23.0"/>
<rect x="1253.9" y="881.7" width="23.0" height="23.0"/>
<rect x="1267.7" y="923.3" width="23.0" height="23.0"/>
<rect x="1267.7" y="895.6" width="23.0" height="23.0"/>
<rect x="1267.7" y="867.9" width="23.0" height="23.0"/>
<rect x="1267.7" y="863.3" width="23.0" height="23.0"/>
<rect x="1288.4" y="849.4" width="23.0" height="23.0"/>
<rect x="1295.3" y="918.7" width="23.0" height="23.0"/>
<rect x="1364.4" y="895.6" width="23.0" height="23.0"/>
<rect x="1371.3" y="904.8" width="23.0" height="23.0"/>
<rect x="1392.0" y="946.3" width="23.0" height="23.0"/>
<rect x="1454.1" y="858.7" width="23.0" height="23.0"/>
<rect x="1571.5" y="886.3" width="23.0" height="23.0"/>
<rect x="1592.2" y="932.5" width="23.0" height="23.0"/>
</g>
<g fill="#000">
<rect x="162.2" y="42.6" width="11.6" height="1208.2"/>
<rect x="119.0" y="1196.2" width="1780.9" height="11.6"/>
<rect x="119.0" y="965.5" width="49.0" height="11.6"/>
<rect x="119.0" y="734.8" width="49.0" height="11.6"/>
<rect x="119.0" y="504.0" width="49.0" height="11.6"/>
<rect x="119.0" y="273.3" width="49.0" height="11.6"/>
<rect x="119.0" y="42.6" width="49.0" height="11.6"/>
<rect x="507.4" y="1202.0" width="11.6" height="48.8"/>
<rect x="852.6" y="1202.0" width="11.6" height="48.8"/>
<rect x="1197.9" y="1202.0" width="11.6" height="48.8"/>
<rect x="1543.1" y="1202.0" width="11.6" height="48.8"/>
<rect x="1888.3" y="1202.0" width="11.6" height="48.8"/>
</g>
<text transform="translate(101.50 1232.60) scale(0.9900 1.0300)" font-size="88.00" text-anchor="end">0</text>
<text transform="translate(101.50 1001.88) scale(0.9900 1.0300)" font-size="88.00" text-anchor="end">5</text>
<text transform="translate(101.50 771.16) scale(0.9900 1.0300)" font-size="88.00" text-anchor="end">10</text>
<text transform="translate(101.50 540.44) scale(0.9900 1.0300)" font-size="88.00" text-anchor="end">15</text>
<text transform="translate(101.50 309.72) scale(0.9900 1.0300)" font-size="88.00" text-anchor="end">20</text>
<text transform="translate(101.50 79.00) scale(0.9900 1.0300)" font-size="88.00" text-anchor="end">25</text>
<text transform="translate(168.00 1349.00) scale(0.9900 1.0300)" font-size="88.00" text-anchor="middle">0</text>
<text transform="translate(513.22 1349.00) scale(0.9900 1.0300)" font-size="88.00" text-anchor="middle">50</text>
<text transform="translate(858.44 1349.00) scale(0.9900 1.0300)" font-size="88.00" text-anchor="middle">100</text>
<text transform="translate(1203.66 1349.00) scale(0.9900 1.0300)" font-size="88.00" text-anchor="middle">150</text>
<text transform="translate(1548.88 1349.00) scale(0.9900 1.0300)" font-size="88.00" text-anchor="middle">200</text>
<text transform="translate(1894.10 1349.00) scale(0.9900 1.0300)" font-size="88.00" text-anchor="middle">250</text>
<text transform="translate(744.00 1462.00) scale(1.0000 1.0840)" font-size="76.80" text-anchor="start">RBC lifespan(d)</text>
<rect x="1333.2" y="15.7" width="32.7" height="35.5" fill="#7583ff"/>
<rect x="1333.2" y="130.2" width="32.7" height="35.3" fill="#ea3664"/>
<text transform="translate(1467.40 52.60) scale(1.0000 1.0890)" font-size="61.40" text-anchor="start" word-spacing="-1.9">AG (mmol/L), r = - 0.2752, p &lt; 0.0001</text>
<text transform="translate(1473.40 170.00) scale(1.0000 1.0890)" font-size="61.40" text-anchor="start" word-spacing="-1.9">HbA1c (%), r = 0.1092, p = 0.0259</text>
</svg>
</body>
</html>
